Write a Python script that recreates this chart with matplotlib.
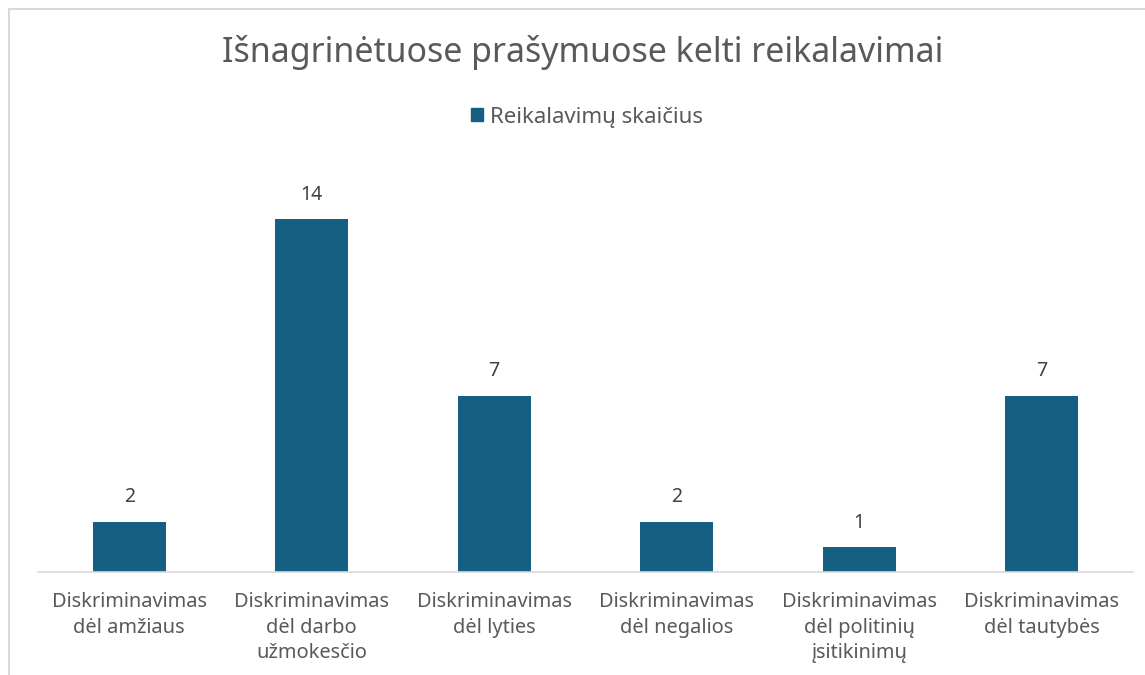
import matplotlib
matplotlib.use("Agg")
import matplotlib.pyplot as plt
from matplotlib.patches import Rectangle, Patch

categories = [
    "Diskriminavimas\ndėl amžiaus",
    "Diskriminavimas\ndėl darbo\nužmokesčio",
    "Diskriminavimas\ndėl lyties",
    "Diskriminavimas\ndėl negalios",
    "Diskriminavimas\ndėl politinių\nįsitikinimų",
    "Diskriminavimas\ndėl tautybės",
]
values = [2, 14, 7, 2, 1, 7]
series_name = "Reikalavimų skaičius"
title = "Išnagrinėtuose prašymuose kelti reikalavimai"

W, H = 1145, 675
BAR = "#156082"
TXT = "#595959"
plt.rcParams['font.family'] = ['Noto Sans', 'DejaVu Sans']

fig = plt.figure(figsize=(W / 100, H / 100), dpi=100)
fig.patch.set_facecolor("white")

# chart border
fig.patches.append(Rectangle((9 / W, -0.05), 1.2, (H - 9) / H + 0.05, transform=fig.transFigure,
                             fill=False, edgecolor="#d9d9d9", linewidth=1.5))

ax_left, ax_right = 38 / W, 1133 / W
ax_bottom, ax_top = (H - 572) / H, (H - 169) / H
ax = fig.add_axes([ax_left, ax_bottom, ax_right - ax_left, ax_top - ax_bottom])
x = list(range(len(categories)))
bars = ax.bar(x, values, width=0.4, color=BAR, zorder=2)
ax.set_xlim(-0.5, len(categories) - 0.5)
ax.set_ylim(0, 16)
for s in ["top", "right", "left"]:
    ax.spines[s].set_visible(False)
ax.spines["bottom"].set_color("#d9d9d9")
ax.spines["bottom"].set_linewidth(1.2)
ax.set_yticks([])
ax.set_xticks(x)
ax.set_xticklabels(categories, fontsize=14.4, color=TXT, linespacing=1.36)
ax.tick_params(axis="x", length=0, pad=14.5)

for b, v in zip(bars, values):
    ax.annotate(str(v), (b.get_x() + b.get_width() / 2, v), xytext=(0, 17.5),
                textcoords="offset points", ha="center", va="center",
                fontsize=14, color="#404040")

fig.text(583 / W, (H - 53) / H, title, ha="center", va="center", fontsize=24.4, color=TXT)
leg = fig.legend(handles=[Patch(color=BAR, label=series_name)], loc="center",
                 bbox_to_anchor=(587 / W, (H - 117) / H), frameon=False, fontsize=16,
                 handlelength=0.55, handleheight=0.55, handletextpad=0.3)
for t in leg.get_texts():
    t.set_color(TXT)

fig.savefig("out.png", dpi=100)
